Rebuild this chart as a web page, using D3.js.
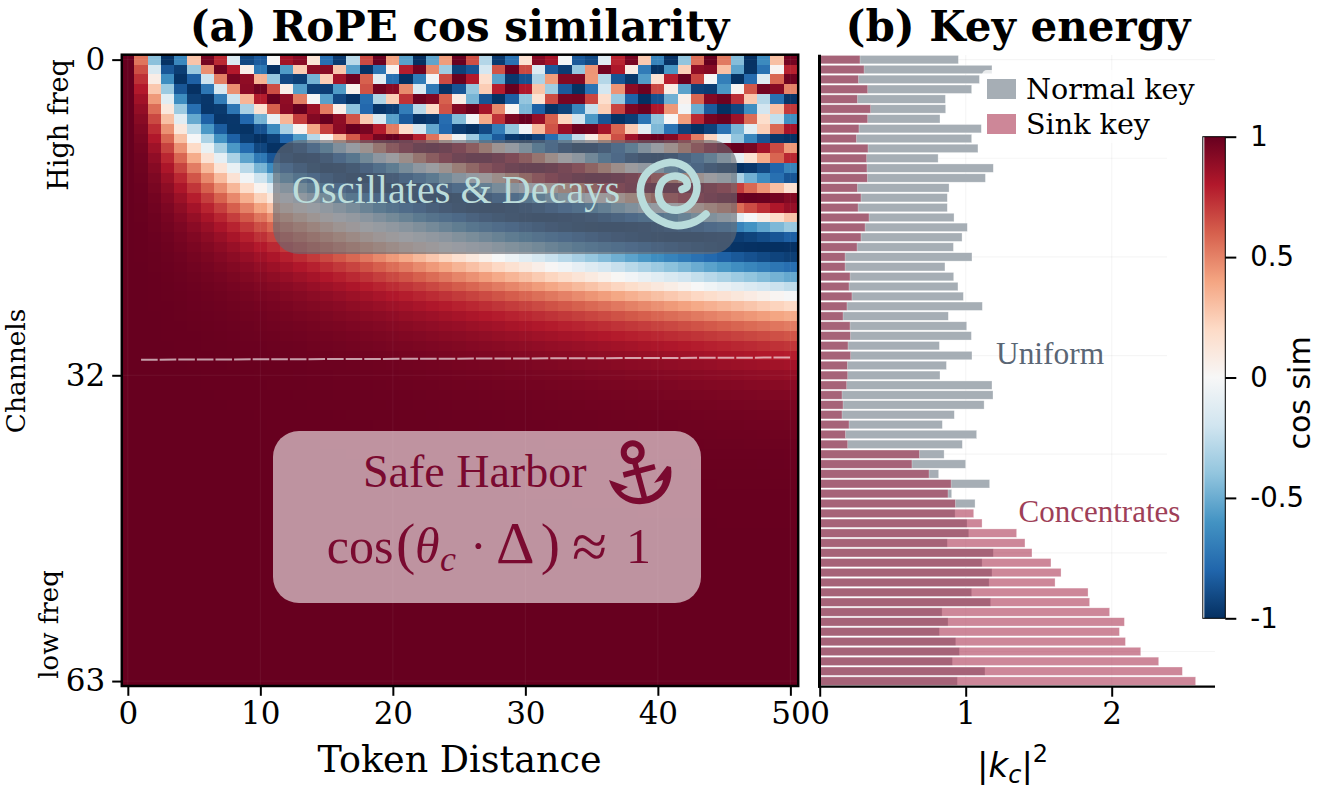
<!DOCTYPE html>
<html>
<head>
<meta charset="utf-8">
<script src="https://cdn.jsdelivr.net/npm/d3@7"></script>
<style>
  html, body { margin: 0; padding: 0; background: #fff; }
  svg { display: block; }
  text { fill: #000; }
</style>
</head>
<body>
<svg id="chart" width="1317" height="798"></svg>
<script>
// Rotation rate of each channel, highest frequency first
const channelTheta = [
  1, 0.86596, 0.74989, 0.64938, 0.56234, 0.48697, 0.42170, 0.36517,
  0.31623, 0.27384, 0.23714, 0.20535, 0.17783, 0.15399, 0.13335, 0.11548,
  0.1, 0.086596, 0.074989, 0.064938, 0.056234, 0.048697, 0.042170, 0.036517,
  0.031623, 0.027384, 0.023714, 0.020535, 0.017783, 0.015399, 0.013335, 0.011548,
  0.01, 0.0086596, 0.0074989, 0.0064938, 0.0056234, 0.0048697, 0.0042170, 0.0036517,
  0.0031623, 0.0027384, 0.0023714, 0.0020535, 0.0017783, 0.0015399, 0.0013335, 0.0011548,
  0.001, 0.00086596, 0.00074989, 0.00064938, 0.00056234, 0.00048697, 0.00042170, 0.00036517,
  0.00031623, 0.00027384, 0.00023714, 0.00020535, 0.00017783, 0.00015399, 0.00013335, 0.00011548
];
const tokenDistances = d3.range(51);
const distanceTicks = [0, 10, 20, 30, 40, 50];
const channelTicks = [0, 32, 63];

// Per-channel energy of the two key populations
const normalKey = [
  .950, 1.180, 1.094, 1.041, .861, .863, .824, 1.107, 1.041, 1.084,
  .811, 1.189, 1.135, .886, .874, .874, .920, 1.011, .975, .916,
  1.043, .858, .918, .947, .984, 1.114, .881, 1.007, 1.039, .820,
  1.043, .868, .824, 1.180, 1.187, 1.126, .922, .840, 1.075, .977,
  .852, 1.000, .815, 1.164, .904, 1.064, .927, 1.009, 1.021, .874,
  1.189, 1.112, 1.180, 1.160, 1.041, 1.171, .838, .879, .820, .932,
  .957, .909, 1.132, .943
];
const sinkKey = [
  .276, .304, .265, .329, .258, .349, .329, .269, .251, .331,
  .322, .324, .326, .258, .283, .263, .338, .311, .283, .256,
  .174, .174, .208, .201, .221, .187, .160, .208, .210, .194,
  .212, .189, .192, .185, .153, .160, .153, .201, .176, .192,
  .683, .632, .749, .900, .879, .929, 1.055, 1.112, 1.349, 1.406,
  1.454, 1.584, 1.653, 1.612, 1.838, 1.849, 1.986, 2.087, 2.053, 2.094,
  2.199, 2.322, 2.484, 2.575
];
const energyTicks = [0, 1, 2];

const colorStops = [-1, -.8, -.6, -.4, -.2, 0, .2, .4, .6, .8, 1];
const colorValues = ["#053061", "#2166ac", "#4393c3", "#92c5de", "#d1e5f0", "#f7f7f7",
                     "#fddbc7", "#f4a582", "#d6604d", "#b2182b", "#67001f"];
const colorbarTicks = [1, .5, 0, -.5, -1];

// Reference channel marked across the heatmap
const boundaryLine = [{ d: 1, c: 30.42 }, { d: 50, c: 30.2 }];

const SERIF = "'DejaVu Serif', serif";
const TIMES = "'Liberation Serif', serif";
const SANS = "'DejaVu Sans', sans-serif";

const svg = d3.select("#chart");
const color = d3.scaleLinear().domain(colorStops).range(colorValues);

// ---- panel (a): heatmap ----
const heat = { left: 121.2, right: 797, top: 54.7, bottom: 686 };
const xCell = d3.scaleBand().domain(tokenDistances).range([heat.left, heat.right]);
const yCell = d3.scaleBand().domain(d3.range(channelTheta.length)).range([heat.top, heat.bottom]);
const xDist = d => xCell(0) + xCell.bandwidth() / 2 + d * xCell.step();
const yChan = c => yCell(0) + yCell.bandwidth() / 2 + c * yCell.step();

const cells = channelTheta.flatMap((theta, c) =>
  tokenDistances.map(d => ({ c, d, v: Math.cos(theta * d) })));

const panelA = svg.append("g");
panelA.append("g").attr("shape-rendering", "crispEdges")
  .selectAll("rect").data(cells).join("rect")
  .attr("x", p => xCell(p.d)).attr("y", p => yCell(p.c))
  .attr("width", xCell.bandwidth() + .4).attr("height", yCell.bandwidth() + .4)
  .attr("fill", p => color(p.v));

// faint grid over the heatmap
panelA.append("g").selectAll("line").data(distanceTicks).join("line")
  .attr("x1", xDist).attr("x2", xDist).attr("y1", heat.top).attr("y2", heat.bottom)
  .attr("stroke", "#fff").attr("stroke-opacity", .06).attr("stroke-width", 1);
panelA.append("g").selectAll("line").data(channelTicks).join("line")
  .attr("y1", yChan).attr("y2", yChan).attr("x1", heat.left).attr("x2", heat.right)
  .attr("stroke", "#fff").attr("stroke-opacity", .06).attr("stroke-width", 1);

// dashed marker line
panelA.append("path").datum(boundaryLine)
  .attr("d", d3.line().x(p => xDist(p.d)).y(p => yChan(p.c)))
  .attr("fill", "none").attr("stroke", "#fff").attr("stroke-opacity", .62).attr("stroke-width", 2)
  .attr("stroke-dasharray", "16.6 2");

// annotation: oscillating region
panelA.append("rect").attr("x", 273).attr("y", 140).attr("width", 464).attr("height", 114).attr("rx", 26)
  .attr("fill", "rgb(103,106,114)").attr("fill-opacity", .64);
panelA.append("text").attr("x", 292).attr("y", 203)
  .attr("font-family", TIMES).attr("font-size", 40.2).style("fill", "#bcdddb")
  .text("Oscillates & Decays");

const spiralPts = [[186,148],[201,140],[197,120],[165,108],[128,124],[116,165],[135,200],[175,210],[215,187],
  [231,138],[205,87],[150,67],[85,95],[61,150],[85,215],[160,256],[225,245],[258,222]];
panelA.append("path").attr("transform", "translate(620,140) scale(0.3333)")
  .attr("d", d3.line().curve(d3.curveCatmullRom)(spiralPts))
  .attr("fill", "none").attr("stroke", "#b9dcdb").attr("stroke-width", 23).attr("stroke-linecap", "round");

// annotation: low-frequency region
panelA.append("rect").attr("x", 273).attr("y", 431).attr("width", 428).attr("height", 172).attr("rx", 26)
  .attr("fill", "#fff").attr("fill-opacity", .575);
panelA.append("text").attr("x", 363).attr("y", 487)
  .attr("font-family", TIMES).attr("font-size", 46).style("fill", "#7a0a30")
  .text("Safe Harbor");

const formulaParts = [
  { s: "cos", x: 326.7, size: 50, dy: 0 },
  { s: "(", x: 396, size: 58, dy: 0 },
  { s: "θ", x: 415, size: 50, dy: 0, italic: true },
  { s: "c", x: 440, size: 36, dy: 8, italic: true },
  { s: "·", x: 470, size: 50, dy: 0 },
  { s: "Δ", x: 496, size: 60, dy: 0 },
  { s: ")", x: 540.7, size: 58, dy: 0 },
  { s: "≈", x: 572, size: 64, dy: 5 },
  { s: "1", x: 626, size: 50, dy: 0 }
];
const formula = panelA.append("text").attr("y", 563)
  .attr("font-family", TIMES).style("fill", "#7a0a30");
let prevDy = 0;
formulaParts.forEach(p => {
  formula.append("tspan").attr("x", p.x).attr("dy", p.dy - prevDy)
    .attr("font-size", p.size).attr("font-style", p.italic ? "italic" : "normal").style("fill", "#7a0a30").text(p.s);
  prevDy = p.dy;
});

// anchor icon
const anchor = panelA.append("g").attr("fill", "none").attr("stroke", "#7a0a30");
anchor.append("circle").attr("cx", 632.7).attr("cy", 452.3).attr("r", 9).attr("stroke-width", 6);
anchor.append("path").attr("d", "M635,463L645,500").attr("stroke-width", 5.5);
anchor.append("path").attr("d", "M623.3,475L655,466.7").attr("stroke-width", 5.5);
anchor.append("path").attr("stroke", "none").attr("fill", "#7a0a30")
  .attr("d", "M609,480L628,487L621,491C628,498 638,499 645,497C655,495 662,488 663,480L654,483L667,466L671,467C673,480 668,492 658,499C648,505 636,506 626,501C617,496 612,489 609,480Z");

// frame and axes of panel (a)
panelA.append("rect").attr("x", heat.left + .6).attr("y", heat.top).attr("width", heat.right - heat.left + .6)
  .attr("height", heat.bottom - heat.top).attr("fill", "none").attr("stroke", "#000").attr("stroke-width", 2.5);

const xAxisScale = d3.scaleLinear().domain([0, 50]).range([xDist(0), xDist(50)]);
const yAxisScale = d3.scaleLinear().domain([0, 63]).range([yChan(0), yChan(63)]);

const axisA = svg.append("g").attr("transform", `translate(0,${heat.bottom + .8})`)
  .call(d3.axisBottom(xAxisScale).tickValues(distanceTicks).tickSize(9).tickSizeOuter(0).tickPadding(6));
const axisAy = svg.append("g").attr("transform", `translate(${heat.left},0)`)
  .call(d3.axisLeft(yAxisScale).tickValues(channelTicks).tickSize(9).tickSizeOuter(0).tickPadding(7));
[axisA, axisAy].forEach(g => {
  g.select(".domain").remove();
  g.selectAll("line").attr("stroke", "#000").attr("stroke-width", 2);
  g.selectAll("text").attr("font-family", SERIF).attr("font-size", 31);
});

svg.append("text").attr("x", 459.5).attr("y", 41).attr("text-anchor", "middle")
  .attr("font-family", SERIF).attr("font-weight", "bold").attr("font-size", 42)
  .text("(a) RoPE cos similarity");
svg.append("text").attr("x", 459.5).attr("y", 772).attr("text-anchor", "middle")
  .attr("font-family", SERIF).attr("font-size", 36.5).text("Token Distance");

const rotated = (x, y, label, family, size) => svg.append("text")
  .attr("transform", `translate(${x},${y}) rotate(-90)`).attr("text-anchor", "middle")
  .attr("font-family", family).attr("font-size", size).text(label);
rotated(25, 371, "Channels", SERIF, 26.4);
rotated(68, 125, "High freq", SERIF, 27);
rotated(58, 624.5, "low freq", SERIF, 26);

// ---- panel (b): key energy bars ----
const barX = d3.scaleLinear().domain([0, 2.7075]).range([819.7, 1215]);
const barY = d3.scaleBand().domain(d3.range(normalKey.length)).range([heat.top, heat.bottom]).paddingInner(.15).paddingOuter(.075);
const panelB = svg.append("g");

const gridStroke = sel => sel.attr("stroke", "#000").attr("stroke-opacity", .04).attr("stroke-width", 1.2);
panelB.append("g").selectAll("line").data([1, 2]).join("line")
  .attr("x1", barX).attr("x2", barX).attr("y1", 55).attr("y2", 686).call(gridStroke);
panelB.append("g").selectAll("line").data([0, 10, 20, 30, 40, 50, 60]).join("line")
  .attr("x1", 820).attr("x2", c => (c === 0 || c === 60) ? 1215 : 1167)
  .attr("y1", yChan).attr("y2", yChan).call(gridStroke);

const bars = (values, fill, alpha) => panelB.append("g")
  .selectAll("rect").data(values).join("rect")
  .attr("x", barX(0)).attr("y", (v, i) => barY(i))
  .attr("width", v => barX(v) - barX(0)).attr("height", barY.bandwidth())
  .attr("fill", fill).attr("fill-opacity", alpha)
  .attr("stroke", "#fff").attr("stroke-opacity", .5).attr("stroke-width", .6);
bars(normalKey, "#9ca5ad", .9);
bars(sinkKey, "#a6294a", .56);

panelB.append("text").attr("x", 996).attr("y", 364).attr("font-family", TIMES).attr("font-size", 31.4)
  .style("fill", "#5a6675").text("Uniform");
panelB.append("text").attr("x", 1018.5).attr("y", 522).attr("font-family", TIMES).attr("font-size", 31)
  .style("fill", "#9e3f58").text("Concentrates");

// legend
const legendKeys = [
  { label: "Normal key", fill: "#a6aeb5", y: 79 },
  { label: "Sink key", fill: "#cd8798", y: 114 }
];
panelB.append("rect").attr("x", 982).attr("y", 70).attr("width", 230).attr("height", 73).attr("rx", 5)
  .attr("fill", "#fff").attr("fill-opacity", .75);
const legend = panelB.append("g").selectAll("g").data(legendKeys).join("g");
legend.append("rect").attr("x", 987).attr("y", k => k.y).attr("width", 29).attr("height", 20).attr("fill", k => k.fill);
legend.append("text").attr("x", 1026).attr("y", k => k.y + 20).attr("font-family", SERIF).attr("font-size", 28.6)
  .text(k => k.label);

// axes of panel (b)
const axisB = svg.append("g").attr("transform", `translate(0,686.7)`)
  .call(d3.axisBottom(barX).tickValues(energyTicks).tickFormat(d3.format("d")).tickSize(10).tickSizeOuter(0).tickPadding(5));
axisB.select(".domain").attr("stroke", "#000").attr("stroke-width", 2.2).attr("d", "M818,0H1215");
axisB.selectAll("line").attr("stroke", "#000").attr("stroke-width", 2);
axisB.selectAll("text").attr("font-family", SERIF).attr("font-size", 31);
svg.append("line").attr("x1", 819.5).attr("x2", 819.5).attr("y1", 54.7).attr("y2", 687.8)
  .attr("stroke", "#000").attr("stroke-width", 3);

svg.append("text").attr("x", 1018).attr("y", 41).attr("text-anchor", "middle")
  .attr("font-family", SERIF).attr("font-weight", "bold").attr("font-size", 42)
  .text("(b) Key energy");

const kLabel = svg.append("text").attr("x", 977).attr("y", 777).attr("font-family", SANS).attr("font-size", 34);
kLabel.append("tspan").text("|");
kLabel.append("tspan").attr("font-style", "italic").text("k");
kLabel.append("tspan").attr("font-style", "italic").attr("font-size", 24).attr("dy", 6).text("c");
kLabel.append("tspan").attr("dy", -6).text("|");
kLabel.append("tspan").attr("font-size", 24).attr("dy", -15).text("2");

// ---- colorbar ----
const cbar = { left: 1204.3, right: 1225.3, top: 136.7, bottom: 618.3 };
const cbarY = d3.scaleLinear().domain([-1, 1]).range([cbar.bottom, cbar.top]);
const defs = svg.append("defs");
const grad = defs.append("linearGradient").attr("id", "cosGradient")
  .attr("x1", 0).attr("x2", 0).attr("y1", 1).attr("y2", 0);
grad.selectAll("stop").data(colorStops).join("stop")
  .attr("offset", v => (v + 1) / 2).attr("stop-color", v => color(v));
svg.append("rect").attr("x", cbar.left).attr("y", cbar.top).attr("width", cbar.right - cbar.left)
  .attr("height", cbar.bottom - cbar.top).attr("fill", "url(#cosGradient)");
svg.append("rect").attr("x", cbar.left - 1.5).attr("y", cbar.top).attr("width", cbar.right - cbar.left + 1.5)
  .attr("height", cbar.bottom - cbar.top).attr("fill", "none").attr("stroke", "#000").attr("stroke-width", 1);
const axisC = svg.append("g").attr("transform", `translate(${cbar.right},0)`)
  .call(d3.axisRight(cbarY).tickValues(colorbarTicks).tickFormat(v => String(v)).tickSize(11).tickSizeOuter(0).tickPadding(14));
axisC.select(".domain").remove();
axisC.selectAll("line").attr("stroke", "#000").attr("stroke-width", 2);
axisC.selectAll("text").attr("font-family", SANS).attr("font-size", 27.5);
svg.append("text").attr("transform", "translate(1309.5,393) rotate(-90)").attr("text-anchor", "middle")
  .attr("font-family", SANS).attr("font-size", 30).text("cos sim");
</script>
</body>
</html>
